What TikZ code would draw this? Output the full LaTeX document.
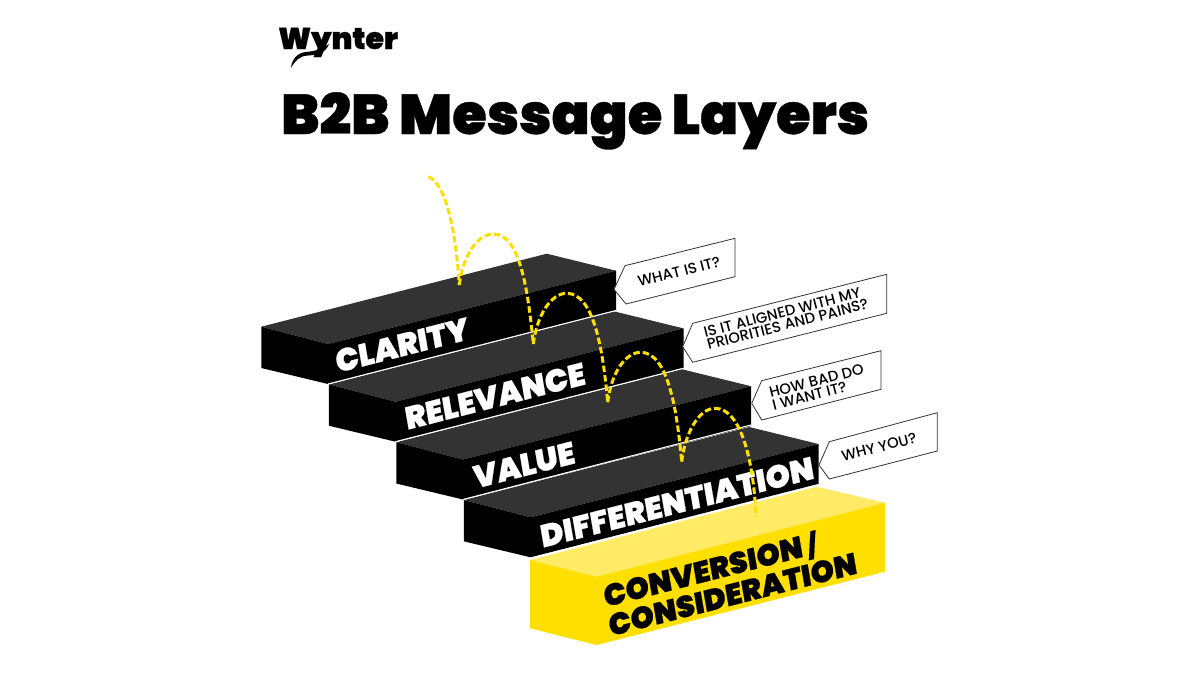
\documentclass[tikz,border=0pt]{standalone}
\usepackage{fontspec}
\setmainfont{Poppins}
\newfontfamily\blk{Poppins Black}
\newfontfamily\blkx{Poppins Black}[FakeBold=0.6]
\newfontfamily\med{Poppins Medium}
\definecolor{stepTop}{HTML}{333333}
\definecolor{ylw}{HTML}{FFDF00}
\definecolor{ylwTop}{HTML}{FFEB66}
\definecolor{edgeC}{HTML}{333333}
\tikzset{
  x=1pt,y=-1pt,
  topface/.style={fill=stepTop},
  frontface/.style={fill=black},
  sep/.style={draw=white,line width=1.1pt},
  callout/.style={draw=edgeC,fill=white,line width=0.8pt,line join=miter},
  calltext/.style={font=\med\fontsize{14.8}{12.8}\selectfont,align=left,rotate=14.3,text=black,inner sep=0pt},
  steplabel/.style={font=\blkx\fontsize{31.3}{31}\selectfont,rotate=14.3,xslant=0.08,text=white,inner sep=0pt,transform shape},
  bounce/.style={draw=ylw,line width=3pt,dash pattern=on 6.5pt off 3pt}
}
\newcommand{\stepblock}[1]{%
  \begin{scope}[shift={#1}]
    \fill[topface] (261.3,326.7)--(328,344)--(616,270.7)--(546.7,253.7)--cycle;
    \fill[frontface] (261.3,326.7)--(328,344)--(616,270.7)--(616,310.5)--(328,384)--(261.3,368)--cycle;
  \end{scope}}
\begin{document}
\begin{tikzpicture}
\useasboundingbox (0,0) rectangle (1200,675);
\fill[white] (0,0) rectangle (1200,675);

% logo and title
\node[anchor=base west,inner sep=0pt,font=\blkx\fontsize{30}{30}\selectfont] (logo) at (278,49) {Wynter};
\fill[black] (291,68) .. controls (292,59) and (297,53) .. (306,52) .. controls (316,51) and (323,49) .. (329,44) .. controls (326,53) and (316,55) .. (308,55.5) .. controls (299,56) and (295,61) .. (291,68) -- cycle;
\node[anchor=base west,inner sep=0pt,font=\blkx\fontsize{56}{56}\selectfont] (title) at (281,134) {B2B Message Layers};

% steps
\stepblock{(0,0)}
\stepblock{(67.5,57.7)}
\stepblock{(135,115.5)}
\stepblock{(202.5,173.3)}
\draw[sep] (328,384)--(616,310.5);
\draw[sep] (395.5,441.7)--(683.5,368.2);
\draw[sep] (463,499.5)--(751,425);

% yellow block
\fill[ylwTop] (530,560)--(596.7,576.7)--(885,502.7)--(816.7,486.7)--cycle;
\fill[ylw] (530,560)--(596.7,576.7)--(885,502.7)--(885,571.7)--(596.7,645)--(530,628.3)--cycle;
\draw[sep] (530,558.5)--(819.5,485);

% step labels
\node[steplabel] (clarity) at (402,345) {CLARITY};
\node[steplabel] (relevance) at (495,396) {RELEVANCE};
\node[steplabel] (value) at (524,465) {VALUE};
\node[steplabel] (diff) at (677,502) {DIFFERENTIATION};
\node[steplabel,text=black,align=left,font=\blkx\fontsize{30}{29.5}\selectfont] (conv) at (730,579) {CONVERSION {\fontsize{24}{24}\selectfont/}\\CONSIDERATION};

% callouts
\draw[callout] (614,289.3)--(625,265.7)--(735,238.3)--(735,276.7)--(626,304)--cycle;
\node[calltext] (c1) at (679,271.5) {WHAT IS IT?};
\draw[callout] (682.7,346.7)--(692.7,323.3)--(886.7,274.3)--(886.7,313.3)--(692.7,362.3)--cycle;
\node[calltext] (c2) at (786,318) {IS IT ALIGNED WITH MY\\PRIORITIES AND PAINS?};
\draw[callout] (751.7,403.3)--(761.7,380.7)--(881,350.7)--(881,389.3)--(761.7,420)--cycle;
\node[calltext] (c3) at (818,387) {HOW BAD DO\\I WANT IT?};
\draw[callout] (819,465)--(829.3,441.7)--(937.3,412.7)--(937.3,451)--(829.3,479)--cycle;
\node[calltext] (c4) at (879,447) {WHY YOU?};

% bouncing dashed path
\coordinate (b0) at (428.3,176.7);
\coordinate (b1) at (459.3,285);
\coordinate (p1) at (493.3,234);
\coordinate (b2) at (533.3,344);
\coordinate (p2) at (566.7,293.3);
\coordinate (b3) at (607.7,402.3);
\coordinate (p3) at (640.7,352.3);
\coordinate (b4) at (681.7,461.7);
\coordinate (p4) at (715,408.3);
\coordinate (b5) at (756,517.3);
\draw[bounce] (b0) .. controls (447,184) and (456,235) .. (b1);
\draw[bounce] (b1) .. controls (463,256) and (477,234) .. (p1) .. controls (520,234) and (528,290) .. (b2);
\draw[bounce] (b2) .. controls (537,315) and (551,293.3) .. (p2) .. controls (594,293.3) and (603,350) .. (b3);
\draw[bounce] (b3) .. controls (611,374) and (625,352.3) .. (p3) .. controls (668,352.3) and (677,410) .. (b4);
\draw[bounce] (b4) .. controls (685,433) and (699,408.3) .. (p4) .. controls (742,408.3) and (754,465) .. (b5);
\end{tikzpicture}
\end{document}
